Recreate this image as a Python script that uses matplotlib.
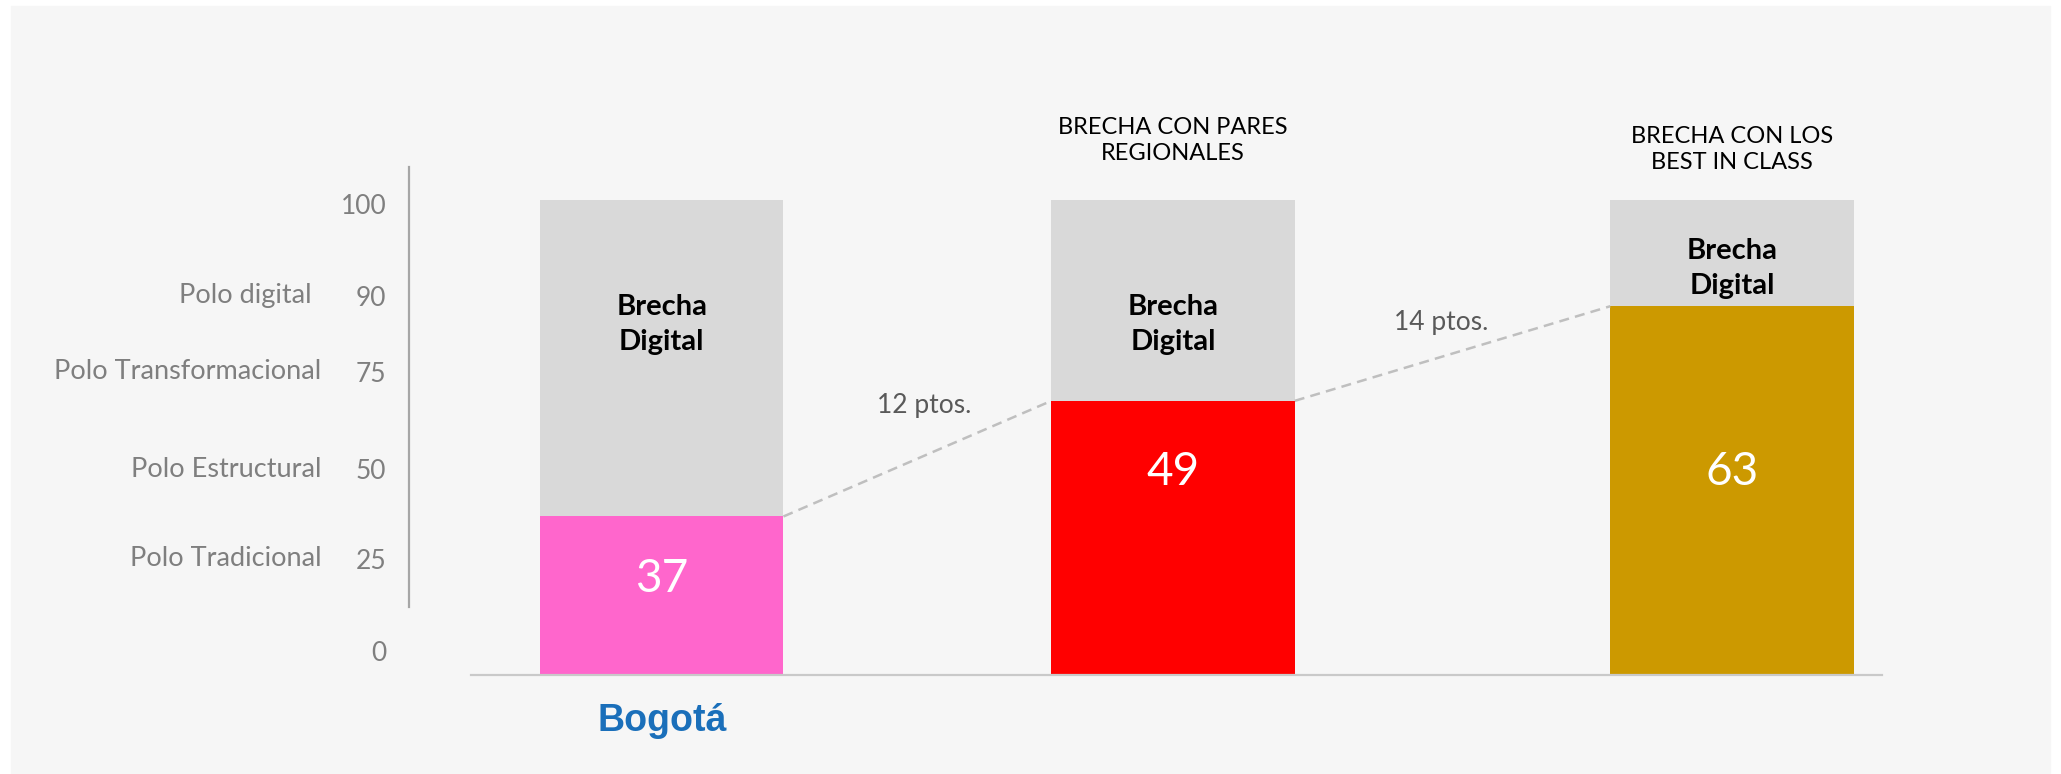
"""Brecha digital: Bogotá vs pares regionales vs best in class."""

import matplotlib.pyplot as plt
import numpy as np
from matplotlib.patches import Rectangle

# ---- data -------------------------------------------------------------
VALUES = [37, 49, 63]
TOTAL = 100
BAR_COLORS = ["#ff66cc", "#ff0000", "#cc9900"]
HEADERS = ["", "BRECHA CON PARES\nREGIONALES", "BRECHA CON LOS\nBEST IN CLASS"]
GAP_TEXT = ["12 ptos.", "14 ptos."]
CITY = "Bogotá"

TICK_VALUES = [0, 25, 50, 75, 90, 100]
POLO_VALUES = [25, 50, 75, 90]
POLO_LABELS = ["Polo Tradicional", "Polo Estructural", "Polo Transformacional", "Polo digital"]

# ---- layout -------------------------------------------------------------
BAR_X = [0, 1, 2.093]
BAR_WIDTH = 0.476
# the original graphic is drawn by hand, so its vertical scale is piecewise
BAR_SCALE_IN = [0, 37, 49, 63, 100, 130]
BAR_SCALE_OUT = [0, 121, 209, 281, 362, 392]
TICK_SCALE_IN = [-7, 0, 25, 50, 75, 90, 100, 110]
TICK_SCALE_OUT = [0, 19, 89, 157, 231, 289, 359, 387]
BRECHA_Y = [0.69, 0.69, 0.80]   # axes fraction
VALUE_Y = [0.19, 0.40, 0.40]    # axes fraction
POLO_OFFSET = [-63, -63, -63, -70]

FONT = "Lato"
GREY_TXT = "#7f7f7f"


def piecewise(xs, ys):
    return (lambda v: np.interp(v, xs, ys), lambda h: np.interp(h, ys, xs))


def main():
    fig = plt.figure(figsize=(20.61, 7.74), dpi=100, facecolor="white")
    fig.patches.append(Rectangle((11 / 2061, 1 / 774), 2039 / 2061, 767 / 774,
                                 transform=fig.transFigure, color="#f6f6f6", zorder=-10))

    bottom, height = 0.1273, 0.657
    ax = fig.add_axes([358 / 1568, bottom, 1074 / 1568, height])
    ax.set_facecolor("none")
    ax.set_yscale("function", functions=piecewise(BAR_SCALE_IN, BAR_SCALE_OUT))
    ax.set_ylim(0, 125)
    ax.set_xlim(-0.374, 2.387)

    gaps = [TOTAL - v for v in VALUES]
    ax.bar(BAR_X, VALUES, width=BAR_WIDTH, color=BAR_COLORS, linewidth=0)
    ax.bar(BAR_X, gaps, bottom=VALUES, width=BAR_WIDTH, color="#d9d9d9", linewidth=0)

    for x, v, by, vy in zip(BAR_X, VALUES, BRECHA_Y, VALUE_Y):
        ax.text(x, by, "Brecha\nDigital", transform=ax.get_xaxis_transform(),
                ha="center", va="center", fontsize=21, fontweight="bold",
                family=FONT, color="black", linespacing=1.45)
        ax.text(x, vy, str(v), transform=ax.get_xaxis_transform(),
                ha="center", va="center", fontsize=33, family=FONT, color="white")

    header_offsets = [0, 43, 36]
    for x, txt, off in zip(BAR_X, HEADERS, header_offsets):
        if txt:
            ax.annotate(txt, xy=(x, TOTAL), xytext=(0, off), textcoords="offset points",
                        ha="center", va="center", fontsize=17, family=FONT,
                        color="black", linespacing=1.3)

    # dashed connectors between bar tops
    label_offsets = [(5, 38), (-8, 22)]
    for i, (txt, off) in enumerate(zip(GAP_TEXT, label_offsets)):
        x0 = BAR_X[i] + BAR_WIDTH / 2
        x1 = BAR_X[i + 1] - BAR_WIDTH / 2
        ax.plot([x0, x1], [VALUES[i], VALUES[i + 1]], ls=(0, (4, 2.5)),
                color="#bfbfbf", lw=1.8)
        ym = (VALUES[i] + VALUES[i + 1]) / 2
        ax.annotate(txt, xy=((x0 + x1) / 2, ym), xytext=off, textcoords="offset points",
                    ha="center", va="center", fontsize=19, family=FONT, color="#595959")

    for s in ["top", "right", "left"]:
        ax.spines[s].set_visible(False)
    ax.spines["bottom"].set_color("#c9c9c9")
    ax.spines["bottom"].set_linewidth(1.6)
    ax.set_xticks([])
    ax.set_yticks([])

    ax.annotate(CITY, xy=(BAR_X[0], 0), xycoords=("data", "axes fraction"),
                xytext=(0, -33), textcoords="offset points", ha="center", va="center",
                fontsize=27, fontweight="bold", family="Liberation Sans", color="#1a6fba")

    # left scale
    axt = fig.add_axes([311 / 1568, bottom, 0.01, height])
    axt.set_facecolor("none")
    axt.set_yscale("function", functions=piecewise(TICK_SCALE_IN, TICK_SCALE_OUT))
    axt.set_ylim(-7, 110)
    axt.set_yticks(TICK_VALUES, labels=[str(t) for t in TICK_VALUES])
    axt.yaxis.set_minor_locator(plt.NullLocator())
    axt.tick_params(axis="y", length=0, pad=16, labelsize=19, labelcolor=GREY_TXT)
    for lab in axt.get_yticklabels():
        lab.set_family(FONT)
    axt.set_xticks([])
    for s in axt.spines.values():
        s.set_visible(False)
    axt.plot([0, 0], [52 / 387, 1], transform=axt.transAxes, color="#a6a6a6", lw=1.6,
             clip_on=False)
    for v, lab, off in zip(POLO_VALUES, POLO_LABELS, POLO_OFFSET):
        axt.annotate(lab, xy=(0, v), xycoords=("axes fraction", "data"),
                     xytext=(off, 0), textcoords="offset points", ha="right", va="center",
                     fontsize=19.5, family=FONT, color=GREY_TXT)

    fig.savefig("out.png", dpi=100, facecolor=fig.get_facecolor())
    plt.close(fig)


if __name__ == "__main__":
    main()
